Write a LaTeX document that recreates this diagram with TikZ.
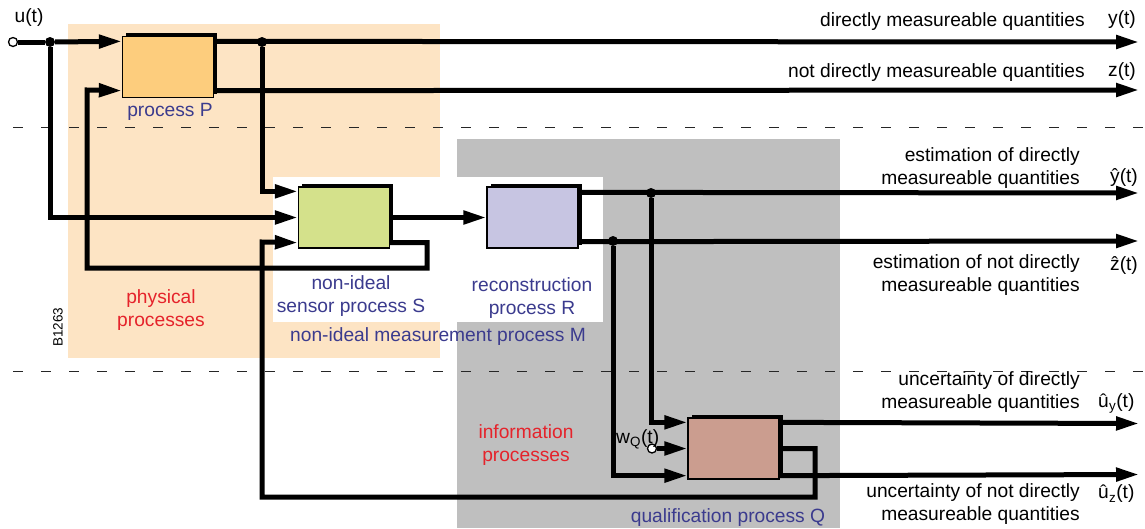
\documentclass[tikz,border=0pt]{standalone}
\usepackage{fontspec}
\setmainfont{Liberation Sans}
\setmonofont{Liberation Mono}
\usetikzlibrary{arrows.meta,calc}

\definecolor{physbg}{HTML}{FDE4C4}
\definecolor{infobg}{HTML}{BFBFBF}
\definecolor{pfill}{HTML}{FDCD7D}
\definecolor{sfill}{HTML}{D4E18B}
\definecolor{rfill}{HTML}{C7C5E2}
\definecolor{qfill}{HTML}{CB9D8F}
\definecolor{lblue}{HTML}{3B3B8E}
\definecolor{lred}{HTML}{E5232B}

\begin{document}
\begin{tikzpicture}[x=1pt,y=-1pt,
  font=\fontsize{19.2}{22.5}\selectfont,
  sig/.style={line width=5pt},
  sigarrow/.style={sig,-{Triangle[length=23pt,width=13pt]}},
  shadowed/.style={preaction={fill=black,transform canvas={xshift=3.5pt,yshift=3.5pt}}},
  block/.style={draw,line width=1.3pt,minimum width=91pt,minimum height=61pt,inner sep=0pt,shadowed},
  dot/.style={circle,fill,inner sep=0pt,minimum size=10pt},
  port/.style={circle,draw,fill=white,line width=1.3pt,inner sep=0pt,minimum size=9pt},
  sep/.style={dash pattern=on 10pt off 18pt,dash phase=15pt,line width=1pt,draw=black!85},
  txt/.style={inner sep=0pt},
  bluetxt/.style={txt,text=lblue,align=center},
  redtxt/.style={txt,text=lred,align=center},
  outtxt/.style={txt,anchor=east,align=right}
]
\useasboundingbox (0,0) rectangle (1145,528);

% background regions
\fill[physbg] (68,24) rectangle (440,358);
\fill[infobg] (457,139) rectangle (840,528);
\fill[white] (273,177) rectangle (603,322);

% separators between the signal groups
\draw[sep] (0,127) -- (1145,127);
\draw[sep] (0,371) -- (1145,371);

% process blocks
\node[block,fill=pfill] (P) at (168,67) {};
\node[block,fill=sfill] (S) at (344,217.5) {};
\node[block,fill=rfill] (R) at (532.5,217.5) {};
\node[block,fill=qfill] (Q) at (733.5,448.5) {};

% terminals and branch points
\node[port] (u) at (13,42) {};
\node[port] (wq) at (652,448.5) {};
\node[dot] (j1) at (50,42) {};
\node[dot] (j2) at (262,42) {};
\node[dot] (j3) at (651,193) {};
\node[dot] (j4) at (613,241) {};

% output ends
\coordinate (yo) at (1139,42);
\coordinate (zo) at (1139,90);
\coordinate (yho) at (1139,193);
\coordinate (zho) at (1139,241);
\coordinate (uyo) at (1139,423.5);
\coordinate (uzo) at (1139,474.5);

% physical process P
\draw[sig] (u) -- (j1);
\draw[sigarrow] (j1) -- ([yshift=-5.5pt]P.north west);
\draw[sigarrow] ([yshift=-5.5pt]P.north east) -- (yo);
\draw[sigarrow] ([yshift=7.5pt]P.south east) -- (zo);

% sensor S
\draw[sigarrow] (j1) |- (S.west);
\draw[sigarrow] (j2) |- ([yshift=-5pt]S.north west);
\draw[sigarrow] ([yshift=6pt]S.south east) -| (427,268) -| (87,90) -- ([yshift=7.5pt]P.south west);

% reconstruction R
\draw[sigarrow] (S.east) -- (R.west);
\draw[sigarrow] ([yshift=-6pt]R.north east) -- (yho);
\draw[sigarrow] ([yshift=7pt]R.south east) -- (zho);

% qualification Q
\draw[sigarrow] (j3) |- ([yshift=-5pt]Q.north west);
\draw[sigarrow] (j4) |- ([yshift=4pt]Q.south west);
\draw[sigarrow] (wq) -- (Q.west);
\draw[sigarrow] ([yshift=-5pt]Q.north east) -- (uyo);
\draw[sigarrow] ([yshift=4pt]Q.south east) -- (uzo);
\draw[sigarrow] (Q.east) -| (815,497) -| (262,242) -- ([yshift=6pt]S.south west);

% labels of the blocks and regions
\node[txt] (lu) at (29,18) {u(t)};
\node[txt,anchor=base west] (lw) at (616,443) {w\textsubscript{Q}(t)};
\node[bluetxt] (lp) at (170,112) {process P};
\node[bluetxt] (ls) at (351,296) {non-ideal\\sensor process S};
\node[bluetxt] (lr) at (532,298) {reconstruction\\process R};
\node[bluetxt] (lm) at (438,337) {non-ideal measurement process M};
\node[bluetxt] (lq) at (728,518) {qualification process Q};
\node[redtxt] (lphys) at (161,310) {physical\\processes};
\node[redtxt] (linfo) at (526,445) {information\\processes};
\node[txt,rotate=90,font=\fontsize{13.5}{15}\selectfont] (code) at (58,327) {B1263};

% output descriptions
\node[outtxt] (d1) at (1085,22) {directly measureable quantities};
\node[outtxt] (d2) at (1085,73) {not directly measureable quantities};
\node[outtxt] (d3) at (1080,168) {estimation of directly\\measureable quantities};
\node[outtxt] (d4) at (1080,275) {estimation of not directly\\measureable quantities};
\node[outtxt] (d5) at (1080,392) {uncertainty of directly\\measureable quantities};
\node[outtxt] (d6) at (1080,504) {uncertainty of not directly\\measureable quantities};

% output symbols
\node[txt] (s1) at (1122,20) {y(t)};
\node[txt] (s2) at (1122,72) {z(t)};
\node[txt] (s3) at (1124,177) {\^{y}(t)};
\node[txt] (s4) at (1124,265) {\^{z}(t)};
\node[txt] (s5) at (1116,403) {{\ttfamily û}\textsubscript{y}(t)};
\node[txt] (s6) at (1116,494) {{\ttfamily û}\textsubscript{z}(t)};
\end{tikzpicture}
\end{document}
